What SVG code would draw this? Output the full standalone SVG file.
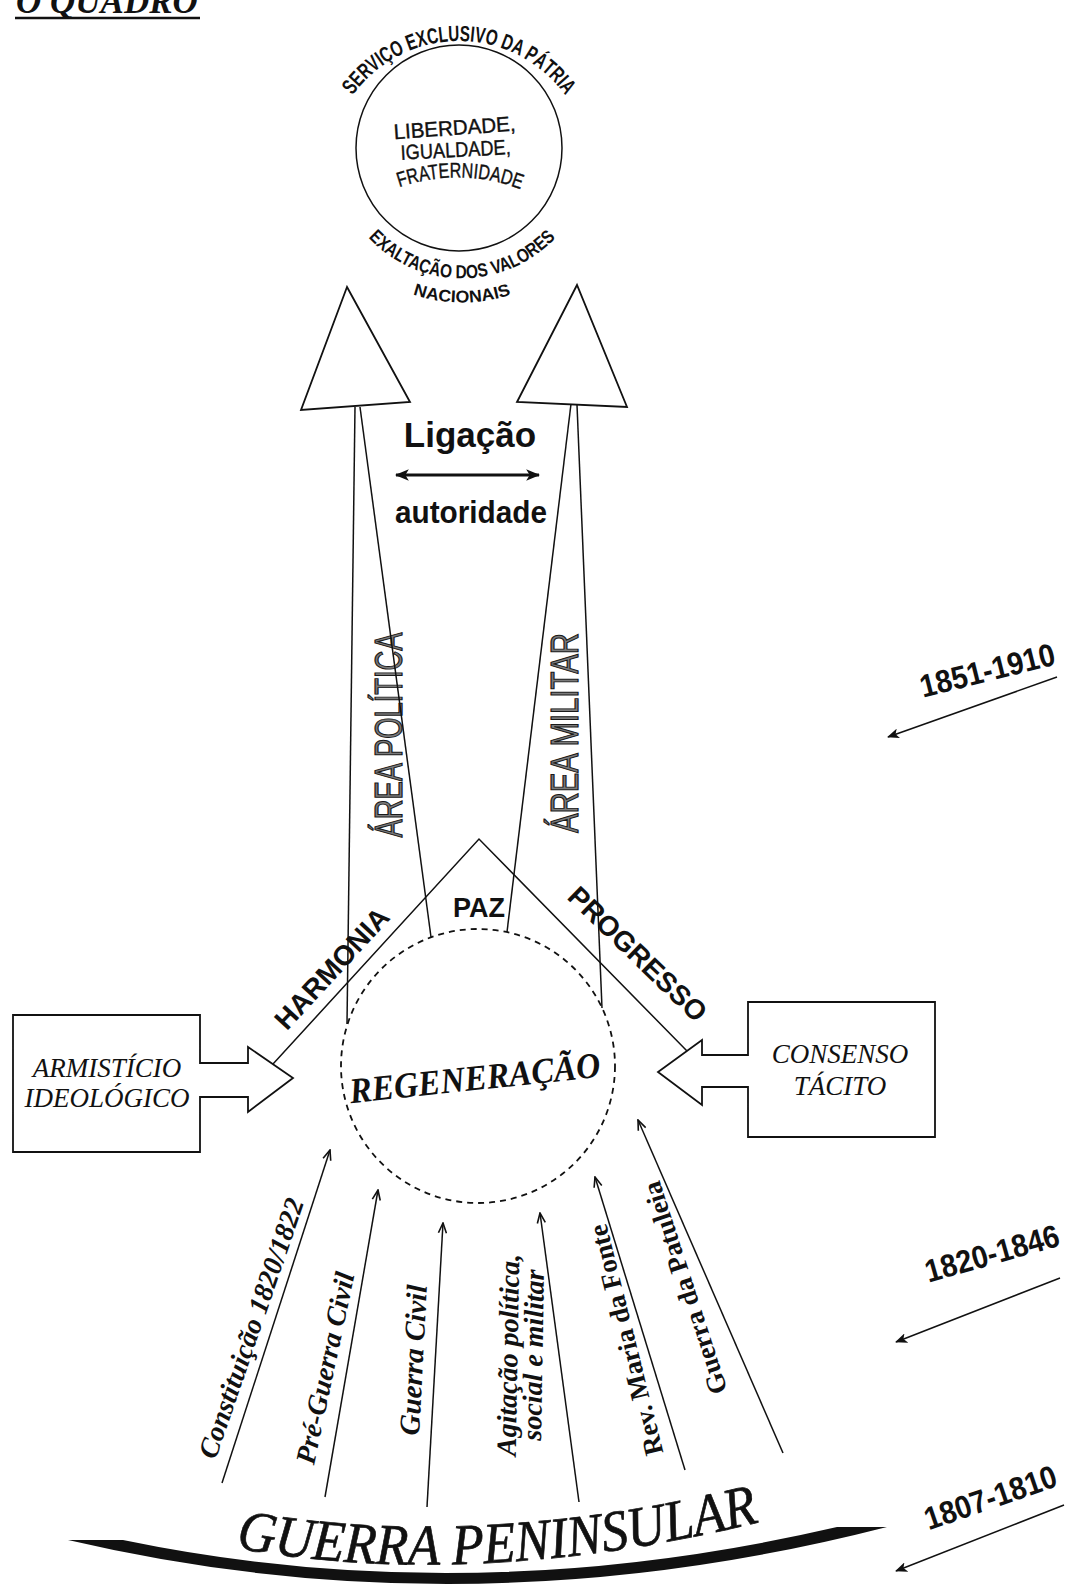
<svg xmlns="http://www.w3.org/2000/svg" width="1083" height="1584" viewBox="0 0 1083 1584">
<style>
.ln{stroke:#111;fill:none;stroke-width:1.5}
.shape{stroke:#111;fill:#fff;stroke-width:1.8}
.sans{font-family:"Liberation Sans",Arial,sans-serif;fill:#111}
.bsans{font-family:"Liberation Sans",Arial,sans-serif;font-weight:bold;fill:#111}
.bi{font-family:"Liberation Serif","Times New Roman",serif;font-weight:bold;font-style:italic;fill:#111}
.bu{font-family:"Liberation Serif","Times New Roman",serif;font-weight:bold;fill:#111}
.it{font-family:"Liberation Serif","Times New Roman",serif;font-style:italic;fill:#111}
.area{font-family:"Liberation Sans",Arial,sans-serif;font-size:38px;fill:#7a7a7a;stroke:#1a1a1a;stroke-width:1.2}
</style>
<defs>
<marker id="vee" viewBox="0 0 12 10" refX="11" refY="5" markerWidth="12" markerHeight="10" markerUnits="userSpaceOnUse" orient="auto">
<path d="M1,1 L11,5 L1,9" fill="none" stroke="#111" stroke-width="1.6"/>
</marker>
<marker id="solid" viewBox="0 0 12 10" refX="11" refY="5" markerWidth="14" markerHeight="12" markerUnits="userSpaceOnUse" orient="auto-start-reverse">
<path d="M0,0 L12,5 L0,10 L3,5 Z" fill="#111"/>
</marker>
<marker id="dsolid" viewBox="0 0 12 10" refX="11" refY="5" markerWidth="12" markerHeight="10" markerUnits="userSpaceOnUse" orient="auto">
<path d="M0,0 L12,5 L0,10 L3,5 Z" fill="#111"/>
</marker>
<path id="arcTop" d="M 351.7,96.9 A 131,131 0 0,1 566.3,96.9"/>
<path id="arcExalt" d="M 366,235 A 128,128 0 0,0 558,235"/>
<path id="arcNac" d="M 398,288.5 A 153,153 0 0,0 526,288.5"/>
<path id="arcFrat" d="M 397,188 Q 460,166 523,190"/>
<path id="arcGuerra" d="M 215,1544 Q 470,1596 780,1517"/>
</defs>

<rect width="1083" height="1584" fill="#fff"/>

<g id="title">
<text class="bi" x="16" y="13" font-size="35">O QUADRO</text>
<line x1="15" y1="18" x2="200" y2="18" stroke="#111" stroke-width="2.5"/>
</g>

<g id="n-ideais">
<circle cx="459" cy="148" r="103" class="ln"/>
<text class="bsans" font-size="22"><textPath href="#arcTop" startOffset="50%" text-anchor="middle" textLength="248" lengthAdjust="spacingAndGlyphs">SERVIÇO EXCLUSIVO DA PÁTRIA</textPath></text>
<text class="sans" font-size="21" stroke="#111" stroke-width="0.4" x="455" y="135" text-anchor="middle" textLength="122" lengthAdjust="spacingAndGlyphs" transform="rotate(-4 455 135)">LIBERDADE,</text>
<text class="sans" font-size="21" stroke="#111" stroke-width="0.4" x="456" y="157" text-anchor="middle" textLength="110" lengthAdjust="spacingAndGlyphs" transform="rotate(-3 456 157)">IGUALDADE,</text>
<text class="sans" font-size="21" stroke="#111" stroke-width="0.4"><textPath href="#arcFrat" startOffset="50%" text-anchor="middle" textLength="124" lengthAdjust="spacingAndGlyphs">FRATERNIDADE</textPath></text>
<text class="bsans" font-size="19"><textPath href="#arcExalt" startOffset="50%" text-anchor="middle" textLength="210" lengthAdjust="spacingAndGlyphs">EXALTAÇÃO DOS VALORES</textPath></text>
<text class="bsans" font-size="17"><textPath href="#arcNac" startOffset="50%" text-anchor="middle" textLength="100" lengthAdjust="spacingAndGlyphs">NACIONAIS</textPath></text>
</g>

<g id="n-area-politica">
<polygon class="shape" points="347,287 301,410 410,402"/>
<text class="area" x="402" y="735" text-anchor="middle" transform="rotate(-90 402 735)" textLength="205" lengthAdjust="spacingAndGlyphs">ÁREA POLÍTICA</text>
</g>

<g id="n-area-militar">
<polygon class="shape" points="577,285 517,402 627,407"/>
<text class="area" x="578" y="733" text-anchor="middle" transform="rotate(-90 578 733)" textLength="200" lengthAdjust="spacingAndGlyphs">ÁREA MILITAR</text>
</g>

<g id="n-ligacao">
<text class="bsans" font-size="35" x="470" y="447" text-anchor="middle">Ligação</text>
<text class="bsans" font-size="32" x="471" y="523" text-anchor="middle" textLength="152" lengthAdjust="spacingAndGlyphs">autoridade</text>
</g>

<g id="n-regeneracao">
<circle cx="478" cy="1066" r="137" fill="none" stroke="#111" stroke-width="1.8" stroke-dasharray="6 5"/>
<text class="bi" font-size="36" x="476" y="1090" text-anchor="middle" textLength="252" lengthAdjust="spacingAndGlyphs" transform="rotate(-6 476 1090)">REGENERAÇÃO</text>
</g>

<g id="n-paz">
<text class="bsans" font-size="27" x="479" y="917" text-anchor="middle">PAZ</text>
<text class="bsans" font-size="28" x="339" y="975" text-anchor="middle" transform="rotate(-47.3 339 975)">HARMONIA</text>
<text class="bsans" font-size="28" x="631" y="961" text-anchor="middle" transform="rotate(44 631 961)">PROGRESSO</text>
</g>

<g id="n-armisticio">
<path class="shape" d="M13,1015 L200,1015 L200,1063 L248,1063 L248,1047 L293,1078 L248,1112 L248,1097 L200,1097 L200,1152 L13,1152 Z"/>
<text class="it" font-size="27" x="107" y="1077" text-anchor="middle">ARMISTÍCIO</text>
<text class="it" font-size="27" x="107" y="1107" text-anchor="middle">IDEOLÓGICO</text>
</g>

<g id="n-consenso">
<path class="shape" d="M935,1002 L748,1002 L748,1055 L702,1055 L702,1040 L658,1072 L702,1105 L702,1087 L748,1087 L748,1137 L935,1137 Z"/>
<text class="it" font-size="27" x="840" y="1063" text-anchor="middle">CONSENSO</text>
<text class="it" font-size="27" x="840" y="1095" text-anchor="middle">TÁCITO</text>
</g>

<g id="n-eventos">
<text class="bi" font-size="28" x="251" y="1328" text-anchor="middle" dominant-baseline="central" transform="rotate(-71 251 1328)">Constituição 1820/1822</text>
<text class="bi" font-size="28" x="325" y="1368" text-anchor="middle" dominant-baseline="central" transform="rotate(-78 325 1368)">Pré-Guerra Civil</text>
<text class="bi" font-size="29" x="413" y="1360" text-anchor="middle" dominant-baseline="central" transform="rotate(-87 413 1360)">Guerra Civil</text>
<text class="bi" font-size="28" x="508" y="1355" text-anchor="middle" dominant-baseline="central" transform="rotate(-89 508 1355)">Agitação política,</text>
<text class="bi" font-size="28" x="533" y="1355" text-anchor="middle" dominant-baseline="central" transform="rotate(-89 533 1355)">social e militar</text>
<text class="bu" font-size="27" x="626" y="1340" text-anchor="middle" dominant-baseline="central" transform="rotate(-104 626 1340)">Rev. Maria da Fonte</text>
<text class="bu" font-size="27" x="685" y="1288" text-anchor="middle" dominant-baseline="central" transform="rotate(-108 685 1288)">Guerra da Patuleia</text>
</g>

<g id="n-guerra-peninsular">
<path d="M68,1540 L123,1540 Q470,1612 837,1527 L887,1527 Q470,1634 68,1540 Z" fill="#111"/>
<text class="it" font-size="58" stroke="#111" stroke-width="0.7"><textPath href="#arcGuerra" startOffset="50%" text-anchor="middle" textLength="528" lengthAdjust="spacingAndGlyphs">GUERRA PENINSULAR</textPath></text>
</g>

<g id="n-datas">
<text class="bsans" font-size="32" x="990" y="681" text-anchor="middle" transform="rotate(-14 990 681)" textLength="138" lengthAdjust="spacingAndGlyphs">1851-1910</text>
<text class="bsans" font-size="32" x="995" y="1264" text-anchor="middle" transform="rotate(-15.7 995 1264)" textLength="138" lengthAdjust="spacingAndGlyphs">1820-1846</text>
<text class="bsans" font-size="32" x="994" y="1508" text-anchor="middle" transform="rotate(-18.9 994 1508)" textLength="138" lengthAdjust="spacingAndGlyphs">1807-1810</text>
</g>

<g id="connectors">
<line class="ln" x1="355" y1="407" x2="347" y2="1024"/>
<line class="ln" x1="360" y1="407" x2="431" y2="937"/>
<line class="ln" x1="571" y1="404" x2="507" y2="932"/>
<line class="ln" x1="577" y1="405" x2="602" y2="1008"/>
<line x1="396" y1="475" x2="539" y2="475" stroke="#111" stroke-width="3" marker-start="url(#solid)" marker-end="url(#solid)"/>
<polyline class="ln" points="273,1064 479,839 687,1051"/>
<line class="ln" x1="222" y1="1483" x2="330" y2="1150" marker-end="url(#vee)"/>
<line class="ln" x1="325" y1="1497" x2="378" y2="1190" marker-end="url(#vee)"/>
<line class="ln" x1="427" y1="1507" x2="443" y2="1223" marker-end="url(#vee)"/>
<line class="ln" x1="579" y1="1502" x2="540" y2="1213" marker-end="url(#vee)"/>
<line class="ln" x1="685" y1="1470" x2="595" y2="1177" marker-end="url(#vee)"/>
<line class="ln" x1="783" y1="1453" x2="638" y2="1120" marker-end="url(#vee)"/>
<line class="ln" x1="1057" y1="677" x2="888" y2="737" marker-end="url(#dsolid)"/>
<line class="ln" x1="1060" y1="1278" x2="896" y2="1342" marker-end="url(#dsolid)"/>
<line class="ln" x1="1064" y1="1505" x2="896" y2="1571" marker-end="url(#dsolid)"/>
</g>
</svg>
